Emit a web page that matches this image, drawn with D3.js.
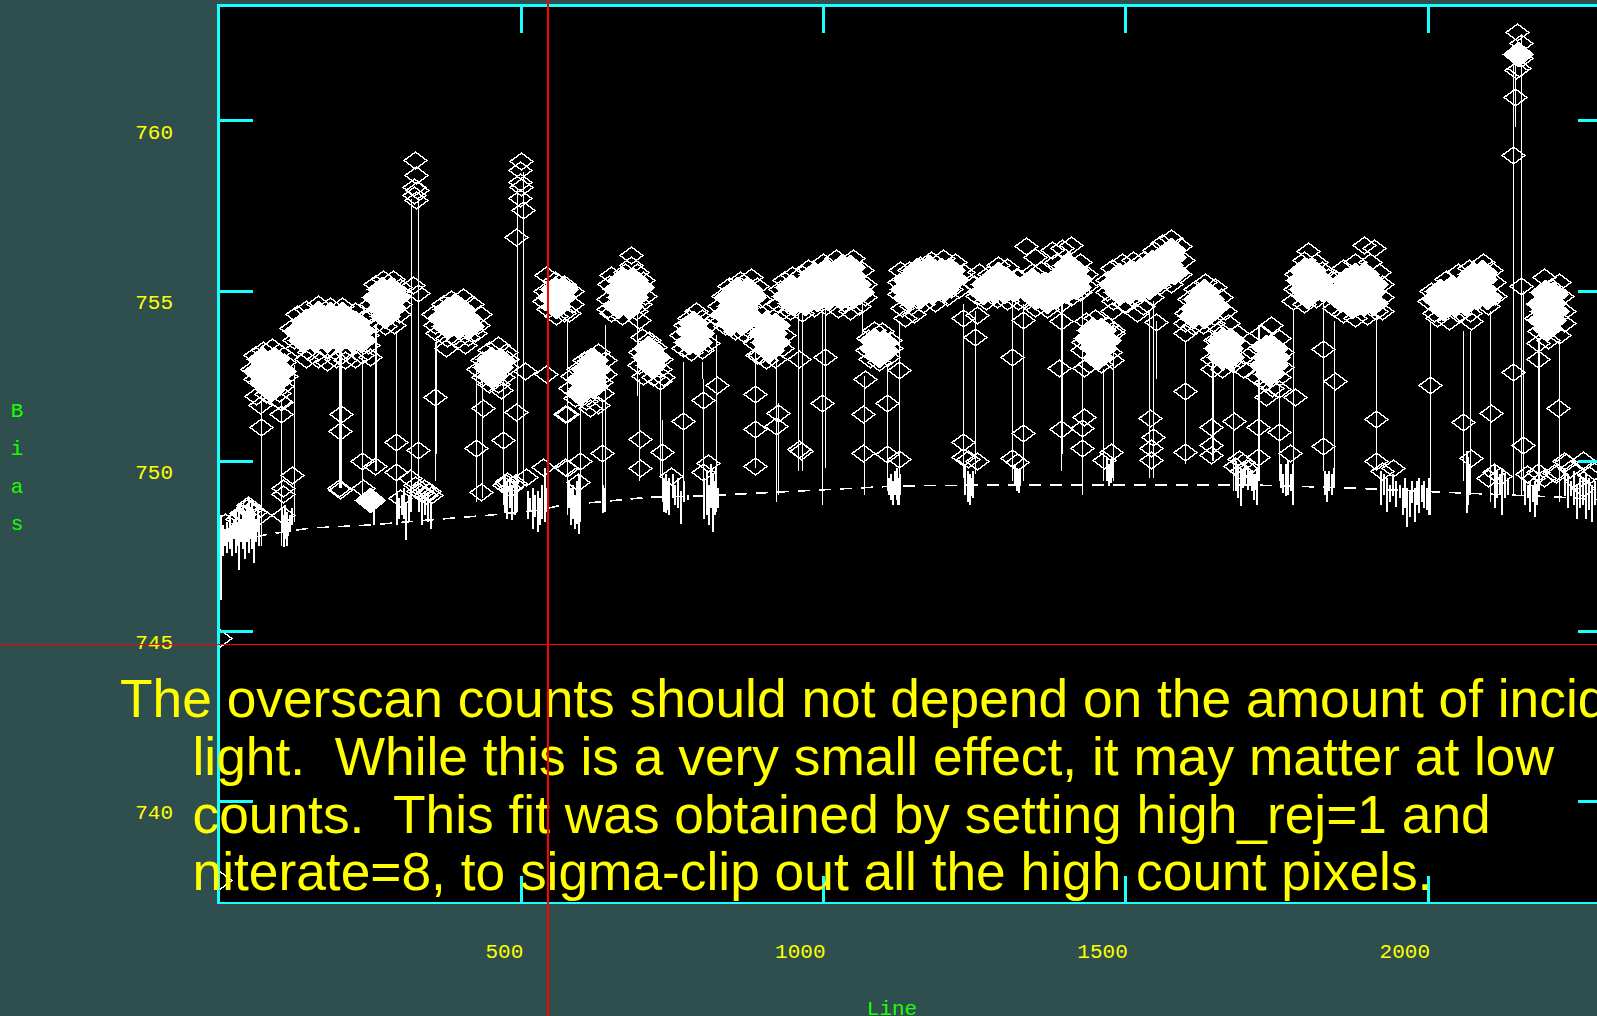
<!DOCTYPE html>
<html><head><meta charset="utf-8"><script src="https://cdn.jsdelivr.net/npm/d3@7"></script>
<style>html,body{margin:0;padding:0;background:#2f4f4f;overflow:hidden}svg{display:block}</style></head><body>
<script>
const xTicks=[500,1000,1500,2000];
const yTicks=[740,745,750,755,760];
const xTitle="Line";
const yTitle=["B","i","a","s"];
const noteLines=["The overscan counts should not depend on the amount of incident","light.  While this is a very small effect, it may matter at low","counts.  This fit was obtained by setting high_rej=1 and","niterate=8, to sigma-clip out all the high count pixels."];
const fitLine=[60,77,151,250,350,449,531,569,631,713,796,928,1060,1126,1292,1457,1705,1870,2019,2217,2366];
const fitBias=[747.76,747.82,748.02,748.11,748.26,748.40,748.55,748.70,748.79,748.93,748.96,749.08,749.20,749.26,749.29,749.29,749.29,749.20,749.08,748.93,748.76];
const cursorLine=545, cursorBias=744.6;

// tall excursions: line, top, bottom
const spikes=[[70,752.6,747.5],[71,752.3,749.6],[103,751.8,747.5],[125,752.8,748.2],[200,753.2,749.2],[201,753.2,749.2],[202,753.2,749.2],[237,753.2,748.8],[259,754,749.7],[260,754,749.7],[293,753.8,748.5],[318,757.7,749.1],[330,757.7,749],[358,753.5,749.4],[359,753.5,750.2],[426,752.9,748.8],[435,752.4,748.9],[470,752.4,748.7],[494,758,748.7],[504,758.5,749.2],[576,754.1,748.4],[598,751.8,748.2],[634,751.7,748.5],[640,754,748.9],[692,754.5,751.9],[695,752.4,749.4],[731,752.7,749.5],[733,751.2,748.8],[768,752.9,748.9],[799,752.9,752.4],[801,752.4,748.7],[823,753.7,749.7],[887,753.4,749.8],[888,753.4,749.8],[923,753.2,748.8],[925,751.7,749],[958,754.3,749.7],[965,754.3,749.7],[966,751.5,749.7],[999,754.5,748.7],[1003,754.5,749.8],[1064,754.7,753.7],[1067,752.5,749],[1068,752.5,749],[1105,752.8,749.1],[1126,754.1,748.7],[1231,754.6,749.5],[1252,754.4,749.6],[1313,754.7,749.4],[1330,754.6,749.4],[1394,755,749.7],[1395,755,750.2],[1429,755,749],[1463,752.7,749.4],[1479,754.1,749.4],[1540,754.4,749.5],[1550,754.1,752.4],[1546,754.7,749.5],[1598,753.5,749.9],[1599,753.5,752.9],[1644,752.9,750],[1645,752.9,750],[1678,752.8,749.1],[1720,754,749.4],[1721,754,749.4],[1755,752.2,749.4],[1778,754.4,748.7],[1827,754.7,749.7],[1845,754.1,749.7],[1846,754.1,749.7],[1915,754.4,749.7],[2004,754.1,748.4],[2059,753.8,749.4],[2070,753.8,749.4],[2103,754.4,748.8],[2142,762,749],[2144,762,759.8],[2155,762.5,749],[2158,755,749.1],[2183,753.6,749.1],[2184,753.6,749.1],[2218,753.5,748.8]];

// short fluctuations around the fit: line, high, low
const noiseLeft=[[1,748.4,745.9],[2,748.4,745.9],[6,748.1,747.2],[9,748,747.5],[12,748.2,747.3],[15,748,747.6],[18,748.4,747.4],[21,748.1,747.2],[24,748.3,747.7],[27,748.5,747.3],[30,748.2,747.5],[33,748.6,746.8],[36,748.3,747.6],[39,748.6,747.4],[42,748.4,747.1],[45,748.7,747.6],[48,748.9,747.3],[51,748.5,747.7],[54,748.8,747.4],[57,748.5,747],[60,748.3,747.6],[63,748.6,747.9],[66,748.4,747.5],[104,748.6,747.9],[106,748.4,747.45],[108,748.7,747.7],[110,748.3,747.9],[112,748.5,747.5],[114,748.2,747.8],[116,748.4,747.9],[120,748.6,748.1],[256,748.9,748.1],[293,749.1,748.1],[297,748.9,748.3],[301,749,748.4],[305,749.2,748.3],[309,748.8,747.67],[313,749,748.2],[317,749.1,748.5],[330,749,748.5],[335,748.9,748.1],[340,749.1,748.4],[345,749,748.2],[350,748.8,748],[472,749.5,748.45],[476,749.4,748.3],[480,749.5,748.6],[484,749.3,748.25],[488,749.4,748.4],[492,749.6,748.5],[510,749.1,748.3],[514,748.9,748.5],[518,749.2,748],[522,749,748.35],[526,749.1,747.9],[530,748.9,748.1],[534,749.3,748.3],[538,749.8,748.2],[542,749.2,748.5]];
const noiseMiddle=[[578,749.4,748.6],[581,749.2,748.1],[584,749.3,748.3],[588,749,748],[591,749.4,748.15],[594,749.6,747.85],[634,749.3,748.45],[637,749.2,748.5],[735,749.5,748.5],[738,749.6,748.45],[741,749.4,748.55],[744,749.5,748.4],[750,749.6,748.9],[753,749.3,748.7],[758,749.5,748.6],[763,749.1,748.15],[768,749.4,748.8],[775,749,748.85],[802,749.5,748.3],[806,749.7,748.4],[810,749.3,748.1],[813,749.9,748.6],[816,749.6,747.9],[819,749.4,748.4],[822,749.8,748.5],[825,749.2,748.6],[1108,749.5,749],[1111,749.6,748.85],[1114,749.4,748.7],[1117,749.7,749],[1120,749.8,748.85],[1123,749.5,748.7],[1126,749.6,749],[1234,749.9,749],[1238,749.7,748.8],[1241,749.6,748.7],[1244,749.5,748.95],[1247,749.7,748.9],[1316,749.9,749.3],[1319,749.8,749.1],[1322,749.7,749.05],[1325,749.8,749.25],[1468,750.1,749.4],[1471,749.9,749.25],[1474,750,749.35],[1477,750.1,749.5]];
const noiseRight=[[1681,750,749.1],[1685,749.9,748.9],[1689,749.8,748.68],[1693,749.7,749.2],[1697,750,749.3],[1701,749.8,749.15],[1705,749.7,749.25],[1708,749.7,749.1],[1711,749.6,748.85],[1714,749.6,749.15],[1717,749.8,748.7],[1756,749.9,749.2],[1760,749.6,749.05],[1764,749.9,748.95],[1768,750,749],[1772,749.6,749.1],[1776,749.9,748.7],[1828,749.7,749],[1832,749.6,748.8],[1836,749.7,749.1],[1840,749.6,749],[1844,749.8,749.2],[1922,749.7,748.7],[1927,749.6,749],[1932,749.5,748.5],[1937,749.3,748.8],[1942,749.6,748.95],[1947,749.4,748.65],[1952,749.3,748.9],[1957,749.2,748.4],[1961,749.5,748.6],[1965,749.2,748.05],[1969,749.1,748.35],[1973,749.4,748.75],[1977,749.2,748.2],[1981,749.4,748.7],[1985,749.5,748.45],[1989,749.3,748.8],[1993,749.4,748.6],[1997,749.2,748.55],[2001,749.5,748.4],[2063,750.3,748.45],[2066,750.1,748.7],[2069,749.9,749],[2110,749.9,748.6],[2114,749.7,748.9],[2118,749.6,749],[2122,749.8,748.4],[2127,749.6,748.9],[2132,749.5,749],[2160,749.4,748.7],[2164,749.3,748.9],[2168,749.4,748.5],[2172,749.3,748.8],[2176,749.4,748.35],[2180,749.3,748.7],[2226,749.8,748.95],[2231,749.6,748.6],[2236,749.4,748.95],[2241,749.7,748.7],[2246,749.3,748.3],[2251,749.5,748.6],[2256,749.4,748.7],[2261,749.6,748.3],[2266,749.5,748.55],[2271,749.3,748.2],[2276,749.4,748.7]];

// rejected pixels, isolated: line, bias
const rejectedLeft=[[2,744.8],[2,737.67],[70,751],[103,751.37],[103,751.72],[122,749.58],[107,749.2],[107,749.03],[107,748.4],[49,748.63],[37,748.46],[69,748.4],[11,748.2],[48,748.7],[40,748.45],[52,748.55],[60,748.5],[30,748.3],[203,751.37],[201,750.87],[201,749.14],[200,749.2],[237,750],[259,749.84],[293,750.55],[330,750.31],[293,749.67],[316,749.49],[239,749.2],[300,748.9],[325,749.29],[358,751.87],[376,753.31],[408,753.4],[426,750.37],[437,751.55],[470,750.6],[467,752.08],[492,751.43],[507,752.63],[541,752.55],[492,756.58],[434,749.08],[475,749.34],[508,749.52],[536,749.81],[573,749.81],[573,751.37],[330,754.93],[322,755.17],[335,749.05],[343,749],[348,749.1],[340,749.2],[330,749.1],[352,749],[472,749.3],[478,749.4],[482,749.2],[490,749.35],[325,758.84],[326,758.4],[323,758.05],[328,757.95],[323,757.8],[326,757.66],[501,758.8],[498,758.55],[498,758.2],[501,758.05],[498,757.72],[503,757.37]];
const rejectedMiddle=[[576,751.37],[576,749.78],[598,750],[595,749.37],[614,751.55],[634,750.22],[697,750.63],[697,749.78],[731,752.34],[733,750.25],[749,749.55],[768,751.16],[801,751.78],[824,752.22],[801,749.67],[809,749.93],[887,751.96],[887,750.93],[887,749.84],[925,751.4],[923,751.02],[961,750.34],[963,750.3],[961,753],[1003,753.05],[999,751.7],[1069,752.4],[1066,751.37],[1066,750.22],[1105,751.7],[1105,750.2],[1126,752.66],[1126,750.05],[890,753.1],[905,752.95],[1231,754.2],[1254,754.28],[1252,753.64],[1231,750.55],[1231,750.1],[1254,750],[1240,750.05],[1313,753.05],[1330,754.13],[1313,750.08],[1330,750.8],[1321,749.96],[1394,754.1],[1391,752.72],[1394,750.93],[1431,752.72],[1432,751.28],[1429,750.96],[1429,750.37],[1479,753.75],[1477,750.25],[1465,750.02]];
const rejectedRight=[[1541,751.25],[1546,750.7],[1543,750.37],[1543,750.02],[1598,752.05],[1598,750.25],[1642,751],[1680,751.16],[1642,750.46],[1642,750.17],[1551,754.07],[1688,750.05],[1695,749.95],[1682,749.85],[1700,749.8],[1692,749.7],[1733,751.87],[1720,751],[1755,750.84],[1720,750.1],[1772,750.22],[1780,751.87],[1827,753.28],[1847,752.34],[1827,750.43],[1915,751.22],[1915,750],[1943,749.78],[1925,749.7],[2004,752.22],[2059,751.14],[2072,750.08],[2105,751.4],[2110,749.66],[2142,752.6],[2158,750.46],[2155,755.14],[2183,752.99],[2216,751.55],[2183,749.66],[2120,749.55],[2100,749.5],[2165,749.6],[2175,749.5],[2192,749.5],[2225,750],[2235,749.75],[2212,749.6],[2257,750.02],[2267,749.57],[2245,749.4],[2275,749.7],[2258,749.2],[2229,749.96],[2209,749.63],[2148,762.6],[2155,762.28],[2146,761.98],[2155,761.84],[2146,761.49],[2152,761.55],[2144,760.69],[2141,759]];

// saturated pile-ups of rejected pixels
const clumpCoreA=[[72,753],[92,753],[65,752.65],[85,752.7],[103,752.65],[75,752.35],[95,752.35],[85,752.1],[165,754.35],[185,754.3],[205,754.3],[145,754.1],[165,754.05],[185,754.05],[205,754.05],[225,754.05],[132,753.8],[152,753.8],[172,753.8],[192,753.8],[212,753.8],[232,753.8],[140,753.55],[160,753.55],[180,753.55],[200,753.55],[220,753.55],[235,753.55],[270,755.05],[285,755.05],[262,754.8],[278,754.8],[292,754.8],[270,754.5],[285,754.5],[275,754.25],[380,754.45],[400,754.45],[370,754.2],[390,754.2],[410,754.2],[378,753.95],[398,753.95],[415,753.95],[390,754.55],[450,753],[445,752.75],[462,752.75],[453,752.5],[465,752.95],[556,755.05],[570,755.05],[552,754.8],[566,754.8],[558,754.55],[251,748.85]];
const clumpEdgeA=[[60,753.1],[74,753.25],[88,753.35],[100,753.2],[108,752.9],[112,752.5],[60,752.4],[56,752.7],[62,751.9],[78,751.95],[100,752],[105,752.2],[68,751.65],[102,751.75],[130,754.3],[145,754.45],[165,754.6],[185,754.55],[205,754.55],[225,754.4],[240,754.2],[120,753.9],[125,753.55],[245,753.7],[248,753.4],[130,753.3],[150,753.2],[165,753],[180,753.25],[195,753],[210,753.2],[225,753],[238,753.1],[145,753],[180,752.9],[210,752.95],[250,753.05],[258,755.2],[272,755.35],[288,755.35],[300,755.1],[252,754.6],[252,754.3],[262,754.05],[275,753.95],[290,754],[298,754.3],[300,754.6],[372,754.6],[385,754.75],[405,754.8],[420,754.6],[432,754.3],[430,754],[355,754.3],[358,754],[362,753.75],[378,753.6],[395,753.55],[412,753.65],[425,753.75],[448,753.25],[462,753.4],[475,753.2],[435,752.95],[430,752.7],[478,752.75],[438,752.45],[470,752.45],[447,752.25],[462,752.25],[478,753],[542,755.45],[556,755.3],[572,755.2],[585,755],[540,755],[538,754.7],[585,754.6],[545,754.45],[572,754.35],[558,754.25],[580,754.35]];
const clumpCoreB=[[620,752.95],[608,752.7],[625,752.7],[600,752.4],[617,752.45],[605,752.15],[620,752.2],[598,752],[668,755.3],[685,755.3],[660,755.05],[678,755.05],[695,755.1],[668,754.8],[685,754.8],[660,754.55],[677,754.55],[710,753.3],[722,753.05],[708,753.05],[715,752.8],[785,754.05],[780,753.8],[795,753.75],[778,753.5],[792,753.5],[858,755.05],[875,755.05],[845,754.8],[862,754.8],[880,754.8],[850,754.55],[868,754.5],[838,754.3],[856,754.3],[872,754.3],[848,754.05],[865,754.05],[905,754.05],[920,754],[900,753.75],[915,753.75],[905,753.5],[920,753.5],[910,753.25],[945,755.1],[965,755.15],[985,755.25],[1005,755.35],[1025,755.45],[1045,755.45],[1055,755.2],[940,754.85],[960,754.9],[980,754.95],[1000,755.05],[1020,755.15],[1040,755.15],[1060,754.95],[950,754.65],[970,754.65],[990,754.75],[1010,754.8],[1030,754.85],[1050,754.85],[985,755.5],[1005,755.6],[1030,755.7],[1045,755.7],[1085,753.55],[1100,753.5],[1085,753.3],[1100,753.25],[1092,753.1]];
const clumpEdgeB=[[628,753.2],[615,753.05],[640,752.95],[605,752.95],[595,752.7],[585,752.5],[582,752.15],[640,752.55],[632,752.3],[590,751.85],[608,751.75],[628,751.65],[635,752],[614,751.55],[682,756.05],[682,755.75],[692,755.55],[672,755.55],[650,755.45],[646,755.2],[702,755.3],[645,754.75],[705,754.85],[650,754.35],[668,754.25],[690,754.4],[695,754.15],[698,754.6],[645,754.45],[700,753.65],[712,753.55],[722,753.35],[732,753],[698,753.2],[695,752.8],[702,752.5],[718,752.45],[730,752.7],[735,752.45],[778,754.2],[790,754.4],[800,754.2],[772,754],[765,753.7],[806,753.95],[768,753.3],[782,753.2],[800,753.25],[810,753.45],[880,755.4],[862,755.3],[845,755.15],[835,754.85],[828,754.55],[890,755.15],[895,754.75],[825,754.2],[890,754.4],[838,753.95],[855,753.8],[875,753.9],[885,754.1],[868,753.75],[895,753.1],[920,753],[932,753.3],[890,753.95],[925,754.3],[888,753.45],[935,753.7],[935,755.3],[948,755.45],[965,755.5],[975,755.65],[1000,755.85],[1022,755.95],[1050,755.95],[1065,755.6],[928,755.05],[925,754.6],[1070,755.2],[1070,754.8],[945,754.4],[965,754.35],[985,754.5],[1005,754.55],[1025,754.45],[1045,754.4],[1060,754.55],[1035,754.65],[1085,753.85],[1098,753.8],[1110,753.55],[1075,753.6],[1072,753.25],[1112,753.3],[1078,753],[1092,752.9],[1108,753.05]];
const clumpCoreC=[[1140,755.3],[1155,755.35],[1175,755.45],[1195,755.6],[1210,755.6],[1135,755.05],[1155,755.1],[1175,755.15],[1195,755.3],[1215,755.35],[1140,754.8],[1160,754.85],[1180,754.95],[1200,755.05],[1155,755.6],[1175,755.7],[1270,755.2],[1288,755.25],[1305,755.3],[1265,754.95],[1282,755],[1300,755],[1315,755.05],[1290,755.5],[1350,755.05],[1368,755.2],[1385,755.35],[1400,755.5],[1415,755.6],[1350,754.8],[1368,754.95],[1385,755.1],[1402,755.25],[1420,755.35],[1345,755.3],[1385,754.85],[1402,755],[1418,755.1],[1370,754.7],[1405,755.75],[1445,753.85],[1460,753.85],[1440,753.6],[1455,753.6],[1468,753.55],[1448,753.35],[1462,753.3],[1455,753.05],[1490,755.45],[1508,755.55],[1525,755.6],[1480,755.2],[1498,755.25],[1515,755.3],[1532,755.35],[1550,755.4],[1490,754.95],[1508,755],[1525,755.05],[1540,755.1],[1555,755.65],[1570,755.75],[1545,755.85],[1560,756],[1575,756],[1565,755.45],[1580,755.55],[1575,756.2]];
const clumpEdgeC=[[1128,755.6],[1142,755.6],[1160,755.75],[1178,755.9],[1198,755.95],[1218,755.85],[1232,755.55],[1125,755.25],[1125,754.9],[1130,754.5],[1145,754.55],[1165,754.6],[1185,754.65],[1205,754.8],[1225,755.05],[1150,754.3],[1135,754.2],[1212,755.05],[1258,755.55],[1275,755.5],[1290,755.75],[1305,755.7],[1320,755.4],[1250,755.2],[1255,754.85],[1270,754.7],[1288,754.75],[1305,754.7],[1322,754.7],[1335,756.3],[1350,756],[1378,756.2],[1395,756.25],[1410,756.35],[1360,755.6],[1385,755.85],[1425,755.85],[1435,755.5],[1435,755.15],[1425,754.95],[1335,755.1],[1335,754.7],[1350,754.5],[1370,754.45],[1392,754.6],[1410,754.8],[1322,755.4],[1345,755.55],[1435,754.1],[1450,754.2],[1470,754],[1480,753.85],[1430,753.5],[1428,753.25],[1440,752.85],[1460,752.85],[1475,753.2],[1478,752.95],[1478,755.65],[1495,755.85],[1512,755.9],[1530,755.9],[1548,756.2],[1560,756.4],[1575,756.55],[1590,756.3],[1595,755.9],[1590,755.5],[1470,755.3],[1470,754.95],[1480,754.7],[1498,754.6],[1515,754.75],[1530,754.55],[1545,754.8],[1478,754.4],[1520,754.35],[1555,755.15],[1575,755.2]];
const clumpCoreD=[[1630,755],[1620,754.75],[1638,754.75],[1615,754.5],[1632,754.5],[1648,754.55],[1612,754.25],[1630,754.25],[1660,753.55],[1673,753.55],[1655,753.3],[1670,753.3],[1660,753.05],[1672,753.05],[1733,753.35],[1745,753.3],[1735,753.05],[1748,753.05],[1730,752.8],[1745,752.8],[1738,752.55],[1795,755.6],[1808,755.6],[1790,755.3],[1805,755.3],[1820,755.3],[1795,755.05],[1810,755.05],[1825,755.05],[1800,754.85],[1865,755.3],[1880,755.45],[1895,755.5],[1860,755.05],[1878,755.15],[1895,755.2],[1910,755.2],[1870,754.8],[1888,754.9],[1905,754.95],[1855,754.75],[1875,754.55],[1895,754.65],[1910,754.65],[2020,755],[2040,755.1],[2060,755.2],[2015,754.75],[2035,754.85],[2055,754.9],[2025,754.5],[2045,754.6],[2062,754.65],[2075,755.25],[2090,755.35],[2072,755],[2090,755.05],[2082,754.8],[2098,754.8],[2075,755.5],[2090,755.55],[2195,754.95],[2208,754.9],[2190,754.65],[2205,754.65],[2195,754.4],[2210,754.4],[2190,754.15],[2205,754.15],[2198,753.9],[2150,761.95]];
const clumpEdgeD=[[1632,755.25],[1615,755.05],[1648,755.1],[1658,754.8],[1665,754.4],[1605,754.75],[1600,754.35],[1598,754.05],[1598,753.75],[1612,753.95],[1628,754],[1645,754.05],[1655,753.85],[1670,754.05],[1685,753.75],[1690,753.4],[1648,753.55],[1643,753],[1643,752.7],[1660,752.7],[1678,752.85],[1690,753],[1695,752.7],[1741,754],[1725,753.75],[1755,753.6],[1722,753.3],[1760,753.2],[1722,752.9],[1760,752.75],[1718,752.45],[1732,752.3],[1755,752.45],[1742,752.15],[1755,752.1],[1803,756.15],[1795,755.9],[1815,755.85],[1825,755.6],[1783,755.5],[1780,755.05],[1778,754.7],[1795,754.6],[1815,754.75],[1835,755.4],[1880,755.85],[1895,756.34],[1912,756.25],[1860,755.65],[1905,755.85],[1848,755.35],[1920,755.55],[1925,755.2],[1925,754.8],[1925,754.4],[1845,754.5],[1860,754.3],[1880,754.2],[1900,754.25],[1915,754.4],[1848,755],[2005,755],[2003,754.7],[2010,754.35],[2030,755.35],[2050,755.55],[2068,755.65],[2092,755.85],[2105,755.6],[2110,755.25],[2112,754.85],[2100,754.55],[2015,754.2],[2035,754.1],[2052,754.3],[2070,754.35],[2072,754.1],[2193,755.4],[2218,755.25],[2205,755.1],[2182,754.6],[2222,754.85],[2225,754.4],[2180,754.2],[2225,754.05],[2185,753.8],[2218,753.7],[2200,753.55],[2183,753.45]];

const W=1597,H=1016,CYAN="#19ffff",YEL="#ffff00",GRN="#19ff00",MONO="'Liberation Mono',monospace";
const svg=d3.select("body").append("svg").attr("width",W).attr("height",H);
svg.append("rect").attr("width",W).attr("height",H).attr("fill","#2f4f4f");
const x=d3.scaleLinear().domain([0,2305]).range([218.55,1611.9]);
const y=d3.scaleLinear().domain([737,763.38]).range([903,5.5]);
const [xL,xR]=x.range(),[yB,yT]=y.range();
svg.append("rect").attr("x",xL).attr("y",yT).attr("width",xR-xL).attr("height",yB-yT).attr("fill","#000");
svg.append("defs").append("clipPath").attr("id","plot").append("rect").attr("x",xL).attr("y",yT).attr("width",xR-xL).attr("height",yB-yT);
const g=svg.append("g").attr("clip-path","url(#plot)").attr("shape-rendering","crispEdges");

const vert=(d)=>`M${Math.round(x(d[0]))+.5},${y(d[1])}V${y(d[2])}`;
g.append("path").attr("d",spikes.map(vert).join("")).attr("stroke","#fff").attr("stroke-width",1.5).attr("fill","none");
g.append("path").attr("d",[...noiseLeft,...noiseMiddle,...noiseRight].map(vert).join("")).attr("stroke","#fff").attr("stroke-width",2).attr("fill","none");
g.append("path").datum(d3.zip(fitLine,fitBias)).attr("d",d3.line().x(d=>x(d[0])).y(d=>y(d[1])))
 .attr("fill","none").attr("stroke","#fff").attr("stroke-width",1.6).attr("stroke-dasharray","12 9");

const diamond="M-11.5,0L0,-8.5L11.5,0L0,8.5Z";
const solidDiamond="M-16,0L0,-13L16,0L0,13Z";
const core=[...clumpCoreA,...clumpCoreB,...clumpCoreC,...clumpCoreD];
const outline=[...rejectedLeft,...rejectedMiddle,...rejectedRight,...clumpEdgeA,...clumpEdgeB,...clumpEdgeC,...clumpEdgeD];
g.selectAll("path.open").data(outline).join("path").attr("class","open").attr("d",diamond)
 .attr("transform",d=>`translate(${Math.round(x(d[0]))+.5},${Math.round(y(d[1]))+.5})`)
 .attr("fill","none").attr("stroke","#fff").attr("stroke-width",1.4);
g.selectAll("path.solid").data(core).join("path").attr("class","solid").attr("d",solidDiamond)
 .attr("transform",d=>`translate(${Math.round(x(d[0]))+.5},${Math.round(y(d[1]))+.5})`)
 .attr("fill","#fff");

// axes
const ax=svg.append("g");
const style=(s)=>{s.select(".domain").remove();s.selectAll("line").attr("stroke",CYAN).attr("stroke-width",3).attr("shape-rendering","crispEdges");};
const tick=27.5, ytick=34;
ax.append("g").attr("transform",`translate(0,${yB})`).call(d3.axisBottom(x).tickValues(xTicks).tickSizeInner(-tick).tickSizeOuter(0).tickFormat(d3.format("d")).tickPadding(0)).call(style)
  .selectAll("text").attr("font-family",MONO).attr("font-size",21).attr("fill",YEL).attr("text-anchor","end").attr("dx",2).attr("y",0).attr("dy",55);
ax.append("g").attr("transform",`translate(0,${yT})`).call(d3.axisTop(x).tickValues(xTicks).tickSizeInner(-tick).tickSizeOuter(0).tickFormat("")).call(style);
ax.append("g").attr("transform",`translate(${xL},0)`).call(d3.axisLeft(y).tickValues(yTicks).tickSizeInner(-ytick).tickSizeOuter(0).tickFormat(d3.format("d"))).call(style)
  .selectAll("text").attr("font-family",MONO).attr("font-size",21).attr("fill",YEL).attr("text-anchor","end").attr("x",-45.5).attr("dy",0).attr("y",18);
ax.append("g").attr("transform",`translate(${xR},0)`).call(d3.axisRight(y).tickValues(yTicks).tickSizeInner(-ytick).tickSizeOuter(0).tickFormat("")).call(style);
ax.append("rect").attr("x",xL).attr("y",yT).attr("width",xR-xL).attr("height",yB-yT).attr("fill","none").attr("stroke",CYAN).attr("stroke-width",2.5).attr("shape-rendering","crispEdges");
ax.append("text").attr("x",892).attr("y",1015).attr("text-anchor","middle").attr("font-family",MONO).attr("font-size",21).attr("fill",GRN).text(xTitle);
const yTitleBase=[417,455,493,530];
ax.selectAll("text.yt").data(yTitle).join("text").attr("class","yt").attr("x",17).attr("y",(d,i)=>yTitleBase[i]).attr("text-anchor","middle").attr("font-family",MONO).attr("font-size",21).attr("fill",GRN).text(d=>d);

// overlaid note
const noteX=[120,192.5,192.5,192.5];
svg.selectAll("text.note").data(noteLines).join("text").attr("class","note").attr("x",(d,i)=>noteX[i]).attr("y",(d,i)=>717+i*57.8)
 .attr("font-family","'Liberation Sans',Arial,sans-serif").attr("font-size",53.3).attr("fill",YEL).style("white-space","pre").text(d=>d);

// cursor
svg.append("line").attr("x1",0).attr("x2",W).attr("y1",Math.round(y(cursorBias))+.5).attr("y2",Math.round(y(cursorBias))+.5).attr("stroke","#f00").attr("stroke-width",1);
svg.append("line").attr("x1",Math.round(x(cursorLine))).attr("x2",Math.round(x(cursorLine))).attr("y1",0).attr("y2",H).attr("stroke","#f00").attr("stroke-width",2).attr("shape-rendering","crispEdges");
</script></body></html>
